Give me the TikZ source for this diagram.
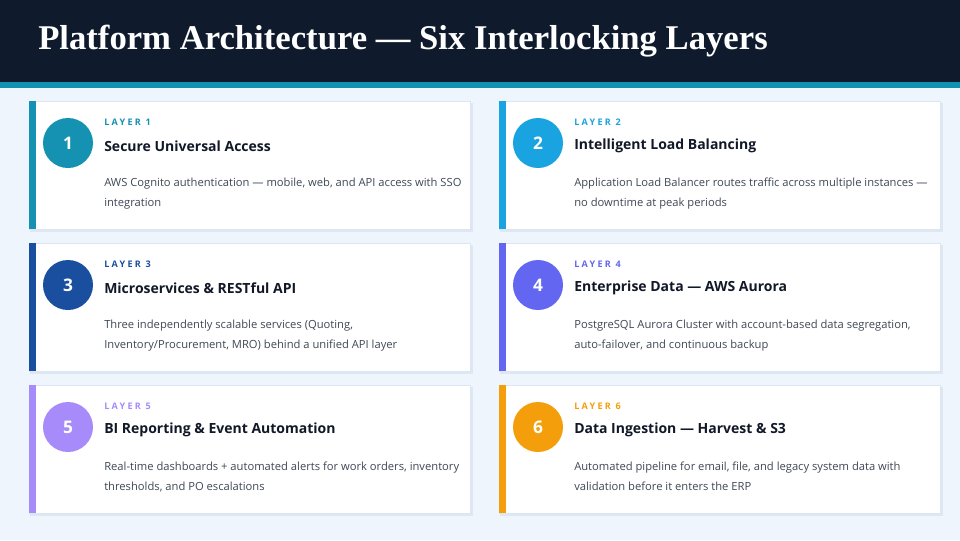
\documentclass[tikz,border=0pt]{standalone}
\usepackage{fontspec}
\setmainfont{Open Sans}
\newfontfamily\titlefont{Liberation Serif}
\newfontfamily\spacedfont[LetterSpace=25]{Open Sans}
\definecolor{bgc}{HTML}{EEF5FC}
\definecolor{hdr}{HTML}{0F1B2D}
\definecolor{band}{HTML}{1093B3}
\definecolor{cborder}{HTML}{DCE6F1}
\definecolor{shad}{HTML}{D5E0EC}
\definecolor{headc}{HTML}{111827}
\definecolor{descc}{HTML}{3F4856}
\definecolor{cA}{HTML}{1591B1}
\definecolor{cB}{HTML}{1AA3E1}
\definecolor{cC}{HTML}{1A4FA0}
\definecolor{cD}{HTML}{6366F1}
\definecolor{cE}{HTML}{A78BFA}
\definecolor{cF}{HTML}{F59E0B}
\tikzset{
  cardbox/.style={draw=cborder, line width=0.6pt, fill=white, rectangle, minimum width=441*0.75pt, minimum height=128*0.75pt, inner sep=0pt, anchor=north west},
  numcirc/.style={circle, minimum size=50*0.75pt, inner sep=0pt, text=white, font=\bfseries\fontsize{13}{15}\selectfont},
  layerlbl/.style={anchor=west, inner sep=0pt, font=\spacedfont\bfseries\fontsize{6.8}{8}\selectfont},
  headlbl/.style={anchor=west, inner sep=0pt, text=headc, font=\bfseries\fontsize{10.5}{13}\selectfont},
  desclbl/.style={anchor=north west, inner sep=0pt, align=left, text=descc, font=\fontsize{8.4}{15}\selectfont},
}
\newcommand\layercard[6]{%
  \fill[shad, opacity=0.6] (#1+1,#2+2) rectangle ++(443,129);
  \node[cardbox] (card#4) at (#1,#2) {};
  \fill[#3] (#1,#2) rectangle ++(7,128);
  \node[numcirc, fill=#3] (circ#4) at (#1+39,#2+42) {#4};
  \node[layerlbl, text=#3] (lay#4) at (#1+75,#2+21) {LAYER #4};
  \node[headlbl] (head#4) at (#1+75,#2+45) {#5};
  \node[desclbl] (desc#4) at (#1+75,#2+77) {#6};
}
\begin{document}
\begin{tikzpicture}[x=0.75pt,y=-0.75pt]
\useasboundingbox (0,0) rectangle (960,540);
\fill[bgc] (0,0) rectangle (960,540);
\fill[hdr] (0,0) rectangle (960,82);
\fill[band] (0,82) rectangle (960,88);
\node[anchor=west, inner sep=0pt, text=white, font=\titlefont\bfseries\fontsize{26}{30}\selectfont] (title) at (38,41) {Platform Architecture — Six Interlocking Layers};
\layercard{29}{101}{cA}{1}{Secure Universal Access}{AWS Cognito authentication — mobile, web, and API access with SSO\\integration}
\layercard{499}{101}{cB}{2}{Intelligent Load Balancing}{Application Load Balancer routes traffic across multiple instances —\\no downtime at peak periods}
\layercard{29}{243}{cC}{3}{Microservices \& RESTful API}{Three independently scalable services (Quoting,\\Inventory/Procurement, MRO) behind a unified API layer}
\layercard{499}{243}{cD}{4}{Enterprise Data — AWS Aurora}{PostgreSQL Aurora Cluster with account-based data segregation,\\auto-failover, and continuous backup}
\layercard{29}{385}{cE}{5}{BI Reporting \& Event Automation}{Real-time dashboards + automated alerts for work orders, inventory\\thresholds, and PO escalations}
\layercard{499}{385}{cF}{6}{Data Ingestion — Harvest \& S3}{Automated pipeline for email, file, and legacy system data with\\validation before it enters the ERP}
\end{tikzpicture}
\end{document}
